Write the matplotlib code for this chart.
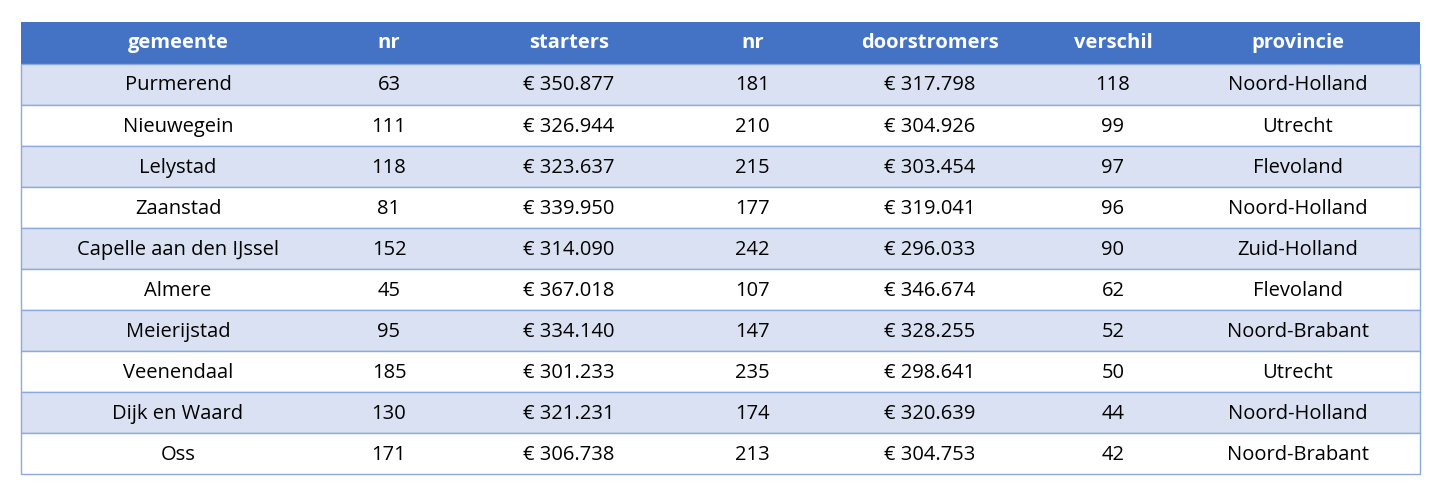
import matplotlib
matplotlib.use("Agg")
import matplotlib.pyplot as plt
from matplotlib.patches import Rectangle

headers = ["gemeente", "nr", "starters", "nr", "doorstromers", "verschil", "provincie"]
gemeente = ["Purmerend", "Nieuwegein", "Lelystad", "Zaanstad", "Capelle aan den IJssel",
            "Almere", "Meierijstad", "Veenendaal", "Dijk en Waard", "Oss"]
nr_starters = [63, 111, 118, 81, 152, 45, 95, 185, 130, 171]
starters = ["€ 350.877", "€ 326.944", "€ 323.637", "€ 339.950", "€ 314.090",
            "€ 367.018", "€ 334.140", "€ 301.233", "€ 321.231", "€ 306.738"]
nr_door = [181, 210, 215, 177, 242, 107, 147, 235, 174, 213]
doorstromers = ["€ 317.798", "€ 304.926", "€ 303.454", "€ 319.041", "€ 296.033",
                "€ 346.674", "€ 328.255", "€ 298.641", "€ 320.639", "€ 304.753"]
verschil = [118, 99, 97, 96, 90, 62, 52, 50, 44, 42]
provincie = ["Noord-Holland", "Utrecht", "Flevoland", "Noord-Holland", "Zuid-Holland",
             "Flevoland", "Noord-Brabant", "Utrecht", "Noord-Holland", "Noord-Brabant"]

cols = [gemeente, nr_starters, starters, nr_door, doorstromers, verschil, provincie]
edges = [21, 335, 443, 695, 810, 1050, 1176, 1420]
top, head_h, row_h = 22, 42, 41

fig = plt.figure(figsize=(14.4, 4.86), dpi=100)
ax = fig.add_axes([0, 0, 1, 1])
ax.set_xlim(0, 1440); ax.set_ylim(486, 0); ax.axis("off")
font = dict(family=["Open Sans", "DejaVu Sans"], fontsize=14.5)

ax.add_patch(Rectangle((edges[0], top), edges[-1]-edges[0], head_h, color="#4472C4", lw=0))
for j, h in enumerate(headers):
    ax.text((edges[j]+edges[j+1])/2, top+head_h/2, h, ha="center", va="center",
            color="white", fontweight="bold", **font)
n = len(gemeente)
for i in range(n):
    y = top + head_h + i*row_h
    ax.add_patch(Rectangle((edges[0], y), edges[-1]-edges[0], row_h,
                           facecolor="#D9E1F2" if i % 2 == 0 else "white",
                           edgecolor="#8EA9DB", lw=1))
    for j, c in enumerate(cols):
        ax.text((edges[j]+edges[j+1])/2, y+row_h/2+1, str(c[i]), ha="center", va="center",
                color="black", **font)
fig.savefig("out.png", dpi=100)
